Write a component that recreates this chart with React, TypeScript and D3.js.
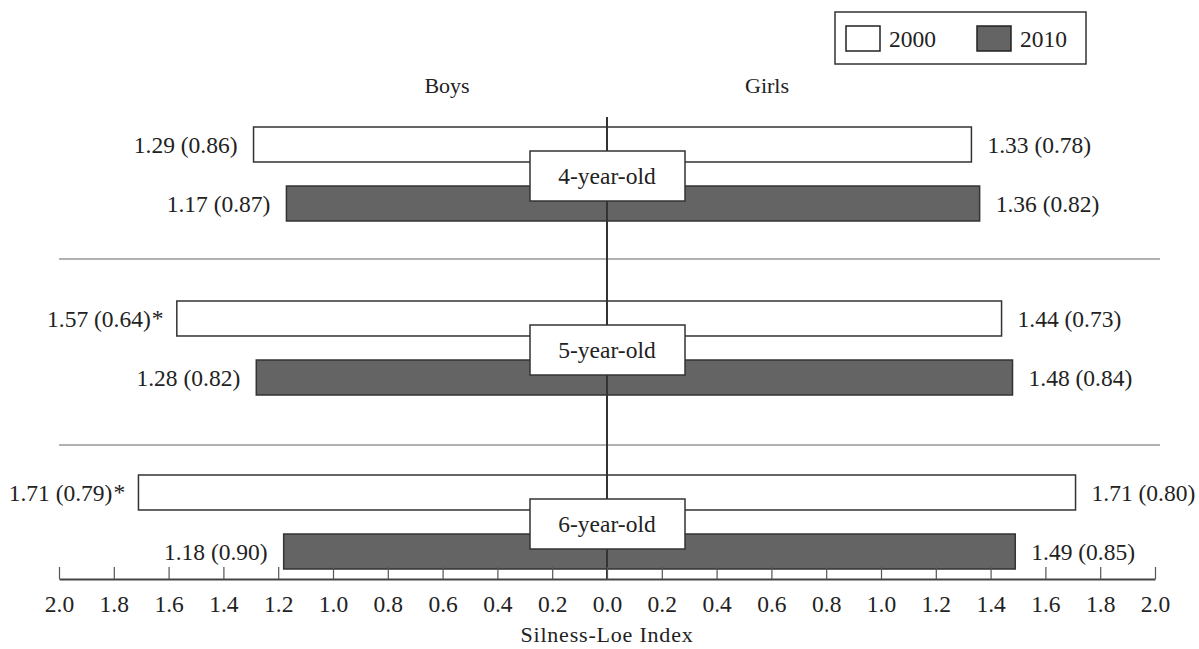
import { useEffect, useRef } from "react";
import * as d3 from "d3";

const ageGroups = ["4-year-old", "5-year-old", "6-year-old"];
const years = ["2000", "2010"];

const boys2000 = [1.29, 1.57, 1.71];
const boys2000Sd = [0.86, 0.64, 0.79];
const boys2000Sig = [false, true, true];
const boys2010 = [1.17, 1.28, 1.18];
const boys2010Sd = [0.87, 0.82, 0.9];

const girls2000 = [1.33, 1.44, 1.71];
const girls2000Sd = [0.78, 0.73, 0.8];
const girls2010 = [1.36, 1.48, 1.49];
const girls2010Sd = [0.82, 0.84, 0.85];

const tickValues = [-2, -1.8, -1.6, -1.4, -1.2, -1, -0.8, -0.6, -0.4, -0.2, 0, 0.2, 0.4, 0.6, 0.8, 1, 1.2, 1.4, 1.6, 1.8, 2];

const FONT = "'Liberation Serif', 'Times New Roman', serif";
const DARK = "#646464";
const NUM_SIZE = "23.5px";

export default function App() {
  const ref = useRef<SVGSVGElement>(null);

  useEffect(() => {
    if (!ref.current) return;
    const svg = d3.select(ref.current);
    svg.selectAll("*").remove();

    const axisY = 579;
    const x = d3.scaleLinear().domain([-2, 2]).range([59, 1155]);
    const y0 = d3.scaleBand<string>().domain(ageGroups).range([87, 609]).padding(0);
    const y1 = d3
      .scaleBand<string>()
      .domain(years)
      .range([-47, 47])
      .paddingInner(0.407)
      .paddingOuter(0);

    // build rows from the arrays
    type Row = { group: string; year: string; side: number; value: number; sd: number; sig: boolean };
    const rows: Row[] = [];
    ageGroups.forEach((g, i) => {
      rows.push({ group: g, year: "2000", side: -1, value: boys2000[i], sd: boys2000Sd[i], sig: boys2000Sig[i] });
      rows.push({ group: g, year: "2010", side: -1, value: boys2010[i], sd: boys2010Sd[i], sig: false });
      rows.push({ group: g, year: "2000", side: 1, value: girls2000[i], sd: girls2000Sd[i], sig: false });
      rows.push({ group: g, year: "2010", side: 1, value: girls2010[i], sd: girls2010Sd[i], sig: false });
    });

    const center = (g: string) => y0(g)! + y0.bandwidth() / 2;
    const barTop = (d: Row) => center(d.group) + y1(d.year)!;

    // separators between age groups
    svg
      .append("g")
      .selectAll("line")
      .data(ageGroups.slice(1))
      .enter()
      .append("line")
      .attr("x1", 59)
      .attr("x2", 1160)
      .attr("y1", (g, i) => y0(g)! + (i === 0 ? -2 : 10))
      .attr("y2", (g, i) => y0(g)! + (i === 0 ? -2 : 10))
      .attr("stroke", "#999")
      .attr("stroke-width", 1.5);

    // bars
    svg
      .append("g")
      .selectAll("rect")
      .data(rows)
      .enter()
      .append("rect")
      .attr("x", (d) => (d.side < 0 ? x(-d.value) : x(0)))
      .attr("y", barTop)
      .attr("width", (d) => Math.abs(x(d.value) - x(0)))
      .attr("height", y1.bandwidth())
      .attr("fill", (d) => (d.year === "2000" ? "#fff" : DARK))
      .attr("stroke", "#333")
      .attr("stroke-width", 1.5);

    // value labels
    const labels = svg.append("g").style("font-family", FONT).style("font-size", NUM_SIZE).attr("fill", "#222");
    labels
      .selectAll("text.val")
      .data(rows)
      .enter()
      .append("text")
      .attr("class", "val")
      .attr("x", (d) => x(d.side * d.value) + d.side * (d.sig ? 26 : 16))
      .attr("y", (d) => barTop(d) + y1.bandwidth() / 2)
      .attr("dy", "0.35em")
      .attr("text-anchor", (d) => (d.side < 0 ? "end" : "start"))
      .text((d) => `${d.value.toFixed(2)} (${d.sd.toFixed(2)})`);
    labels
      .selectAll("text.sig")
      .data(rows.filter((d) => d.sig))
      .enter()
      .append("text")
      .attr("class", "sig")
      .attr("x", (d) => x(d.side * d.value) - 25)
      .attr("y", (d) => barTop(d) + y1.bandwidth() / 2)
      .attr("dy", "0.3em")
      .text("*");

    // center line
    svg
      .append("line")
      .attr("x1", x(0))
      .attr("x2", x(0))
      .attr("y1", 117)
      .attr("y2", axisY)
      .attr("stroke", "#333")
      .attr("stroke-width", 2);

    // age boxes
    const boxes = svg
      .append("g")
      .selectAll("g")
      .data(ageGroups)
      .enter()
      .append("g")
      .attr("transform", (g) => `translate(${x(0)},${center(g) + 2})`);
    boxes
      .append("rect")
      .attr("x", -77)
      .attr("y", -25)
      .attr("width", 155)
      .attr("height", 50)
      .attr("fill", "#fff")
      .attr("stroke", "#333")
      .attr("stroke-width", 1.5);
    boxes
      .append("text")
      .attr("text-anchor", "middle")
      .attr("dy", "0.35em")
      .style("font-family", FONT)
      .style("font-size", NUM_SIZE)
      .attr("fill", "#222")
      .text((g) => g);

    // x axis
    const axis = svg
      .append("g")
      .attr("transform", `translate(0,${axisY})`)
      .call(
        d3
          .axisBottom(x)
          .tickValues(tickValues)
          .tickSizeInner(-12)
          .tickSizeOuter(0)
          .tickPadding(16)
          .tickFormat((d) => Math.abs(+d).toFixed(1)),
      );
    axis.select(".domain").attr("stroke", "#444").attr("stroke-width", 2);
    axis.selectAll(".tick line").attr("stroke", "#555").attr("stroke-width", 1.2);
    axis
      .selectAll(".tick text")
      .style("font-family", FONT)
      .style("font-size", NUM_SIZE)
      .attr("fill", "#222");

    // axis title
    svg
      .append("text")
      .attr("x", x(0))
      .attr("y", 642)
      .attr("text-anchor", "middle")
      .style("font-family", FONT)
      .style("font-size", "22px")
      .style("letter-spacing", "0.8px")
      .attr("fill", "#222")
      .text("Silness-Loe Index");

    // side headers
    svg
      .selectAll("text.side")
      .data([
        { label: "Boys", side: -1 },
        { label: "Girls", side: 1 },
      ])
      .enter()
      .append("text")
      .attr("class", "side")
      .attr("x", (d) => x(0) + d.side * 160)
      .attr("y", 93)
      .attr("text-anchor", "middle")
      .style("font-family", FONT)
      .style("font-size", "22px")
      .attr("fill", "#222")
      .text((d) => d.label);

    // legend
    const legend = svg.append("g").attr("transform", "translate(835,12)");
    legend
      .append("rect")
      .attr("width", 251)
      .attr("height", 52)
      .attr("fill", "#fff")
      .attr("stroke", "#333")
      .attr("stroke-width", 1.5);
    const items = legend
      .selectAll("g")
      .data(years)
      .enter()
      .append("g")
      .attr("transform", (d, i) => `translate(${11 + i * 131},14)`);
    items
      .append("rect")
      .attr("width", 34)
      .attr("height", 25)
      .attr("fill", (d) => (d === "2000" ? "#fff" : DARK))
      .attr("stroke", "#222")
      .attr("stroke-width", 1.5);
    items
      .append("text")
      .attr("x", 43)
      .attr("y", 12.5)
      .attr("dy", "0.35em")
      .style("font-family", FONT)
      .style("font-size", NUM_SIZE)
      .attr("fill", "#222")
      .text((d) => d);
  }, []);

  return (
    <svg
      ref={ref}
      width={1199}
      height={649}
      style={{ position: "absolute", left: 0, top: 0, background: "#fff" }}
    />
  );
}
